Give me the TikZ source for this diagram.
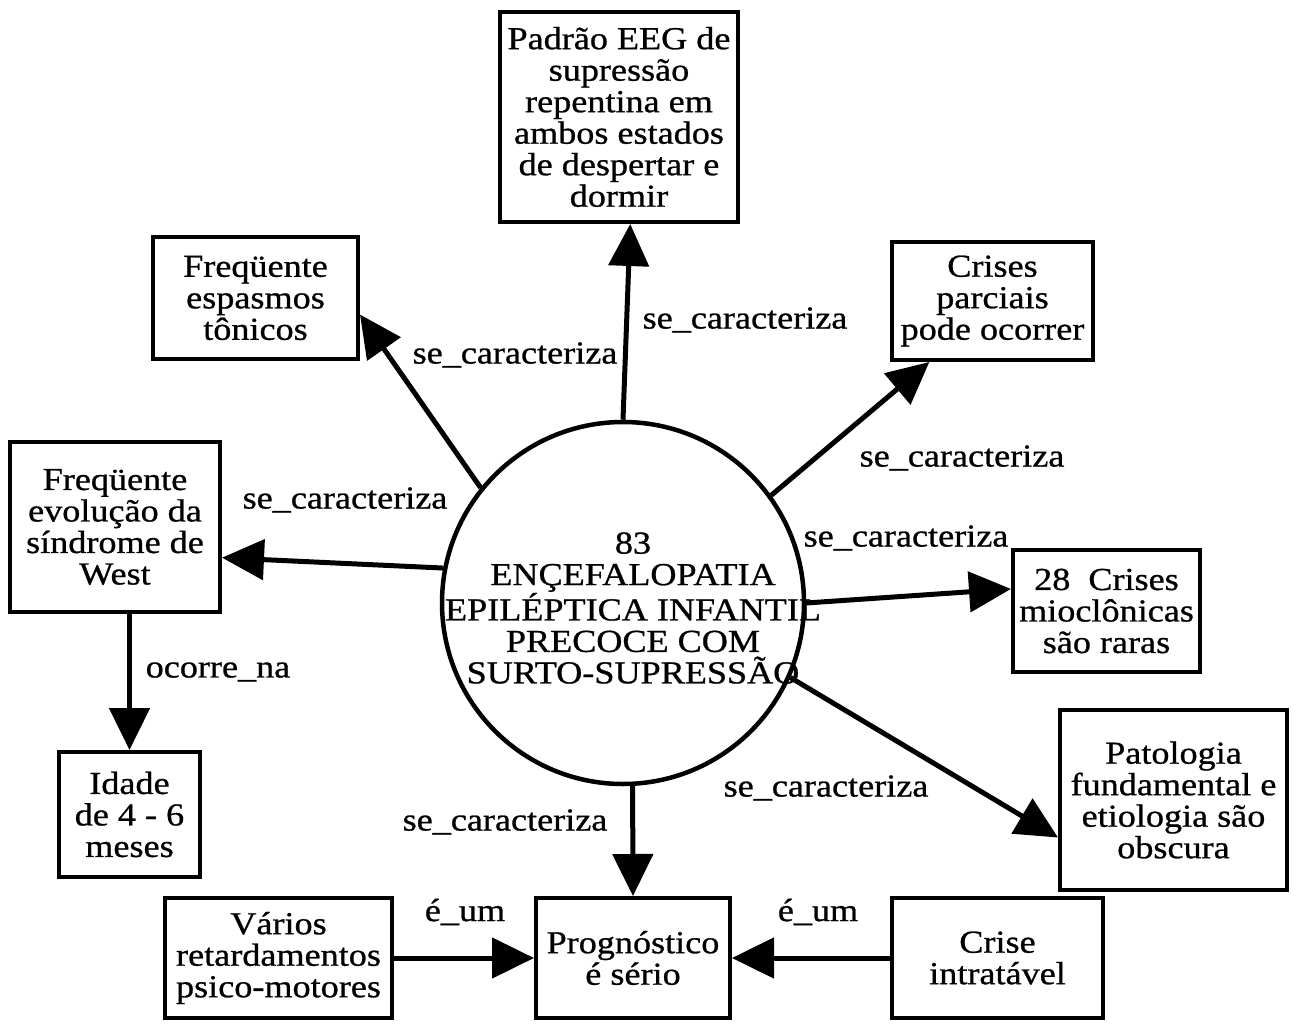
\documentclass[tikz,border=0pt]{standalone}
\usepackage{fontspec}
\setmainfont{Liberation Serif}[FakeStretch=1.13,FakeBold=0.8]
\usetikzlibrary{arrows.meta}
\begin{document}
\begin{tikzpicture}[x=1pt,y=-1pt,
  every node/.style={font=\fontsize{32}{31.5}\selectfont},
  box/.style={draw, line width=4pt, rectangle, inner sep=0pt, align=center},
  hub/.style={draw, circle, line width=4.5pt, inner sep=0pt, minimum size=362pt},
  hubtext/.style={inner sep=0pt, align=center},
  lbl/.style={inner sep=0pt},
  link/.style={line width=5pt, -{Triangle[length=42pt,width=40pt]}}
]
\fill[white] (0,0) rectangle (1302,1025);
\useasboundingbox (0,0) rectangle (1302,1025);

% central concept: the ring keeps its size, the title may spill over it
\node[hub] (c) at (623,603) {};
\node[hubtext] (ct) at (633,608) {83\\ENÇEFALOPATIA\\EPILÉPTICA INFANTIL\\PRECOCE COM\\SURTO-SUPRESSÃO};

% surrounding concepts
\node[box, minimum width=238pt, minimum height=210pt] (eeg) at (619,117)
  {Padrão EEG de\\supressão\\repentina em\\ambos estados\\de despertar e\\dormir};
\node[box, minimum width=205pt, minimum height=122pt] (esp) at (255.5,298)
  {Freqüente\\espasmos\\tônicos};
\node[box, minimum width=201pt, minimum height=118pt] (parc) at (992.5,301)
  {Crises\\parciais\\pode ocorrer};
\node[box, minimum width=210pt, minimum height=170pt] (west) at (115,527)
  {Freqüente\\evolução da\\síndrome de\\West};
\node[box, minimum width=187pt, minimum height=122pt] (mio) at (1106.5,611)
  {28\ \ Crises\\mioclônicas\\são raras};
\node[box, minimum width=141pt, minimum height=125pt] (idade) at (129.5,814.5)
  {Idade\\de 4 - 6\\meses};
\node[box, minimum width=227pt, minimum height=180pt] (pat) at (1173.5,800)
  {Patologia\\fundamental e\\etiologia são\\obscura};
\node[box, minimum width=194pt, minimum height=120pt] (prog) at (633,958)
  {Prognóstico\\é sério};
\node[box, minimum width=227pt, minimum height=120pt] (var) at (278.5,958)
  {Vários\\retardamentos\\psico-motores};
\node[box, minimum width=211pt, minimum height=120pt] (crise) at (997.5,958)
  {Crise\\intratável};

% relations
\draw[link] (c.90) -- (eeg.-84);
\draw[link] (c.141) -- (esp.-9);
\draw[link] (c.36) -- (parc.-136);
\draw[link] (c.169) -- (west.-16);
\draw[link] (c.0) -- (mio.167);
\draw[link] (c.-24) -- (pat.-162);
\draw[link] (c.-87) -- (prog.north);
\draw[link] (west.south -| idade.north) -- (idade.north);
\draw[link] (var.east) -- (prog.west);
\draw[link] (crise.west) -- (prog.east);

% relation labels
\node[lbl] (l1) at (745,320) {se\_caracteriza};
\node[lbl] (l2) at (515,355) {se\_caracteriza};
\node[lbl] (l3) at (962,458) {se\_caracteriza};
\node[lbl] (l4) at (345,500) {se\_caracteriza};
\node[lbl] (l5) at (906,538) {se\_caracteriza};
\node[lbl] (l6) at (826,788) {se\_caracteriza};
\node[lbl] (l7) at (505,822) {se\_caracteriza};
\node[lbl] (l8) at (218,672) {ocorre\_na};
\node[lbl] (l9) at (465,912) {é\_um};
\node[lbl] (l10) at (818,912) {é\_um};
\end{tikzpicture}
\end{document}
